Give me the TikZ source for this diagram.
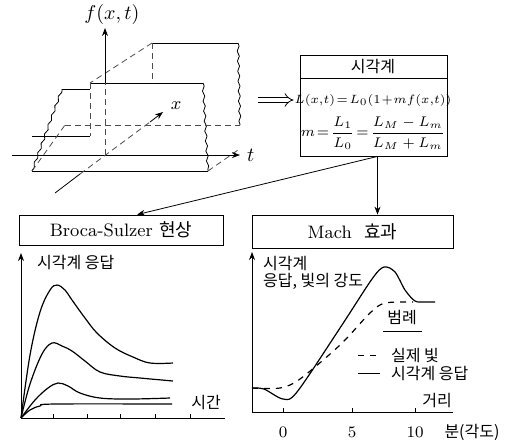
\documentclass[tikz,border=0pt]{standalone}
\usepackage{amsmath}
\usepackage{fontspec}
\newfontfamily\krfont{Noto Sans CJK KR}
\usetikzlibrary{calc, positioning}
\usetikzlibrary{arrows.meta}
\usetikzlibrary{decorations.pathmorphing}

\begin{document}
\begin{tikzpicture}[x=0.5pt,y=-0.5pt,
  framebox/.style={draw,thin,inner sep=0pt},
  hidden/.style={densely dashed,black!70},
  wavyedge/.style={decorate,decoration={snake,amplitude=0.5pt,segment length=5pt}},
  axisline/.style={-{Stealth[length=4pt,width=3pt]}},
  lbl/.style={font=\footnotesize\krfont}]
\useasboundingbox (0,0) rectangle (506,447);

% Slab of the stimulus f(x,t), cut out in x and t.
\coordinate (O) at (105,155);
\draw (32,171) -- (208,171);
\draw[wavyedge] (62,89) -- (32,171);
\draw (62,89) -- (90,89);
\draw (90,83) -- (203,83);
\draw (32,136) -- (90,136);
\draw[hidden] (90,83) -- (90,136);
\draw[wavyedge] (203,83) -- (208,171);
\draw (152,43) -- (238,43);
\draw[wavyedge] (238,43) -- (240,125);
\draw[hidden] (65,125) -- (240,125);
\draw[hidden] (152,43) -- (152,83);
\draw[hidden] (152,43) -- (90,83);
\draw[hidden] (32,171) -- (65,125);
\draw[hidden] (208,171) -- (238,150);

% Axes of the slab.
\draw[axisline] (12,155) -- (240,155) node[right] (tlab) {$t$};
\draw[hidden] (O) -- (105,83);
\draw[axisline] (105,83) -- (105,28);
\node (flab) at (112,14) {$f(x,t)$};
\draw (55,193) -- (80,174);
\draw[hidden] (80,174) -- (150,122);
\draw[axisline] (150,122) -- (163,112);
\node[font=\small] (xlab) at (176,106) {$x$};

% Visual system box.
\node[framebox,minimum width=73.5pt,minimum height=50.5pt] (sys) at (373.5,105.5) {};
\node[lbl] (systitle) at (373,67) {시각계};
\draw (300,78) -- (447,78);
\node[font=\fontsize{6.5}{8}\selectfont] (eq1) at (373,100)
  {$L(x{,}t)\!=\!L_0(1\!+\!m f(x{,}t))$};
\node[font=\scriptsize] (eq2) at (373,133)
  {$m\!=\!\dfrac{L_1}{L_0}\!=\!\dfrac{L_M-L_m}{L_M+L_m}$};
\coordinate (slab) at (258,100);
\draw[double,double distance=2pt,-{Implies},shorten >=3pt] (slab) -- (slab -| sys.west);

% The two effects.
\node[framebox,minimum width=102pt,minimum height=15pt,font=\small] (bs) at (121,230)
  {Broca-Sulzer\ {\krfont 현상}};
\node[framebox,minimum width=100.5pt,minimum height=16.5pt,font=\small] (mach) at (352.5,231.5)
  {Mach\ \ {\krfont 효과}};
\coordinate (split) at ([xshift=2pt]sys.south);
\draw[-{Stealth[length=4pt,width=3pt]}] (split) -- ([xshift=8pt]bs.north);
\draw[-{Stealth[length=4pt,width=3pt]}] (split) -- (split |- mach.north);

% Broca-Sulzer: response against time.
\coordinate (lo) at (21,418);
\draw[axisline] (lo) -- (21,253);
\draw (lo) -- (225,418);
\foreach \tx in {53,87,120,155,190}
  \draw (\tx,418) -- (\tx,414);
\node[lbl,anchor=west] (lylab) at (30,262) {시각계 응답};
\node[lbl] (lxlab) at (206,402) {시간};
\draw[semithick] plot[smooth,tension=0.6] coordinates {(lo) (30,355) (40,312) (50,290)
  (57,285) (65,290) (72,300) (85,318) (97,333) (115,348) (133,357) (150,363) (173,363)};
\draw[semithick] plot[smooth,tension=0.6] coordinates {(lo) (30,384) (42,354) (52,343)
  (62,346) (72,351) (85,361) (100,372) (120,376) (140,378) (173,381)};
\draw[semithick] plot[smooth,tension=0.6] coordinates {(lo) (35,400) (48,388) (58,383)
  (68,386) (80,393) (100,398) (130,399) (170,398)};
\draw[semithick] plot[smooth,tension=0.6] coordinates {(lo) (30,410) (40,406) (55,404)
  (172,404)};

% Mach bands: response and true light against distance.
\coordinate (ro) at (252,412);
\draw[axisline] (ro) -- (252,252);
\draw (ro) -- (453,412);
\foreach \tx/\tl in {283/0,352/5,415/10}{
  \draw (\tx,412) -- (\tx,408);
  \node[font=\footnotesize] (tick\tl) at (\tx,432) {\tl};
}
\node[lbl] (unit) at (472,432) {분(각도)};
\node[lbl,anchor=west] (rylab1) at (256,263) {시각계};
\node[lbl,anchor=west] (rylab2) at (256,281) {응답, 빛의 강도};
\node[lbl] (rxlab) at (437,400) {거리};
\draw[semithick] plot[smooth,tension=0.5] coordinates {(252,388) (264,389) (283,399)
  (297,392) (340,328) (372,279) (384,267) (395,272) (405,290) (415,301) (425,302) (435,302)};
\draw[semithick,dashed] plot[smooth,tension=0.5] coordinates {(252,388) (280,388)
  (300,379) (340,345) (370,313) (385,303) (413,302)};

% Legend.
\node[lbl] (legtitle) at (402,317) {범례};
\draw (383,331) -- (422,331);
\draw[dashed] (358,355) -- (380,355);
\node[lbl,anchor=west] (leg1) at (384,355) {실제 빛};
\draw (358,373) -- (380,373);
\node[lbl,anchor=west] (leg2) at (384,373) {시각계 응답};
\end{tikzpicture}
\end{document}
